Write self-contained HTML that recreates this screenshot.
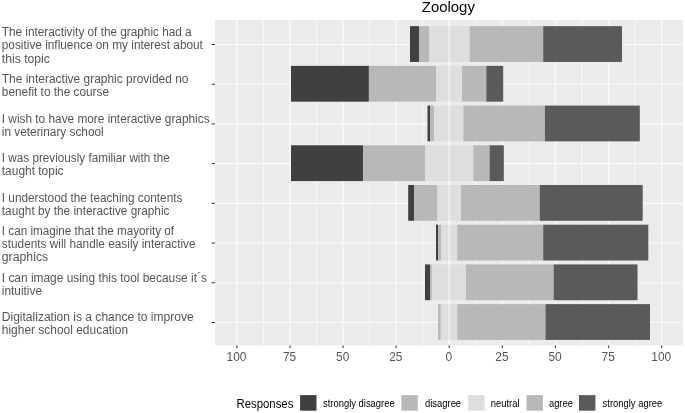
<!DOCTYPE html><html><head><meta charset="utf-8"><style>html,body{margin:0;padding:0;background:#fff;width:685px;height:413px;overflow:hidden}svg{display:block;will-change:transform;font-family:"Liberation Sans",sans-serif}</style></head><body>
<svg width="685" height="413" viewBox="0 0 685 413">
<rect x="0" y="0" width="685" height="413" fill="#fff"/>
<rect x="215" y="20" width="467.9" height="325.5" fill="#ebebeb"/>
<line x1="263.4" y1="20" x2="263.4" y2="345.5" stroke="#fff" stroke-width="0.9" opacity="0.75"/>
<line x1="316.5" y1="20" x2="316.5" y2="345.5" stroke="#fff" stroke-width="0.9" opacity="0.75"/>
<line x1="369.6" y1="20" x2="369.6" y2="345.5" stroke="#fff" stroke-width="0.9" opacity="0.75"/>
<line x1="422.7" y1="20" x2="422.7" y2="345.5" stroke="#fff" stroke-width="0.9" opacity="0.75"/>
<line x1="475.8" y1="20" x2="475.8" y2="345.5" stroke="#fff" stroke-width="0.9" opacity="0.75"/>
<line x1="528.9" y1="20" x2="528.9" y2="345.5" stroke="#fff" stroke-width="0.9" opacity="0.75"/>
<line x1="582" y1="20" x2="582" y2="345.5" stroke="#fff" stroke-width="0.9" opacity="0.75"/>
<line x1="635.1" y1="20" x2="635.1" y2="345.5" stroke="#fff" stroke-width="0.9" opacity="0.75"/>
<line x1="236.85" y1="20" x2="236.85" y2="345.5" stroke="#fff" stroke-width="1.3" opacity="0.72"/>
<line x1="289.95" y1="20" x2="289.95" y2="345.5" stroke="#fff" stroke-width="1.3" opacity="0.72"/>
<line x1="343.05" y1="20" x2="343.05" y2="345.5" stroke="#fff" stroke-width="1.3" opacity="0.72"/>
<line x1="396.15" y1="20" x2="396.15" y2="345.5" stroke="#fff" stroke-width="1.3" opacity="0.72"/>
<line x1="449.25" y1="20" x2="449.25" y2="345.5" stroke="#fff" stroke-width="1.3" opacity="0.72"/>
<line x1="502.35" y1="20" x2="502.35" y2="345.5" stroke="#fff" stroke-width="1.3" opacity="0.72"/>
<line x1="555.45" y1="20" x2="555.45" y2="345.5" stroke="#fff" stroke-width="1.3" opacity="0.72"/>
<line x1="608.55" y1="20" x2="608.55" y2="345.5" stroke="#fff" stroke-width="1.3" opacity="0.72"/>
<line x1="661.65" y1="20" x2="661.65" y2="345.5" stroke="#fff" stroke-width="1.3" opacity="0.72"/>
<line x1="215" y1="44.5" x2="682.9" y2="44.5" stroke="#fff" stroke-width="1.1" opacity="0.8"/>
<line x1="215" y1="84.21" x2="682.9" y2="84.21" stroke="#fff" stroke-width="1.1" opacity="0.8"/>
<line x1="215" y1="123.92" x2="682.9" y2="123.92" stroke="#fff" stroke-width="1.1" opacity="0.8"/>
<line x1="215" y1="163.63" x2="682.9" y2="163.63" stroke="#fff" stroke-width="1.1" opacity="0.8"/>
<line x1="215" y1="203.34" x2="682.9" y2="203.34" stroke="#fff" stroke-width="1.1" opacity="0.8"/>
<line x1="215" y1="243.05" x2="682.9" y2="243.05" stroke="#fff" stroke-width="1.1" opacity="0.8"/>
<line x1="215" y1="282.76" x2="682.9" y2="282.76" stroke="#fff" stroke-width="1.1" opacity="0.8"/>
<line x1="215" y1="322.47" x2="682.9" y2="322.47" stroke="#fff" stroke-width="1.1" opacity="0.8"/>
<rect x="410" y="26.15" width="9" height="35.8" fill="#404040"/>
<rect x="419" y="26.15" width="10" height="35.8" fill="#b8b8b8"/>
<rect x="429" y="26.15" width="40.6" height="35.8" fill="#dedede"/>
<rect x="469.6" y="26.15" width="73.6" height="35.8" fill="#b8b8b8"/>
<rect x="543.2" y="26.15" width="78.8" height="35.8" fill="#5a5a5a"/>
<rect x="291" y="65.86" width="77.9" height="35.8" fill="#404040"/>
<rect x="368.9" y="65.86" width="67.1" height="35.8" fill="#b8b8b8"/>
<rect x="436" y="65.86" width="26" height="35.8" fill="#dedede"/>
<rect x="462" y="65.86" width="24.3" height="35.8" fill="#b8b8b8"/>
<rect x="486.3" y="65.86" width="16.9" height="35.8" fill="#5a5a5a"/>
<rect x="427.5" y="105.57" width="2.5" height="35.8" fill="#404040"/>
<rect x="430" y="105.57" width="4.2" height="35.8" fill="#b8b8b8"/>
<rect x="434.2" y="105.57" width="29.2" height="35.8" fill="#dedede"/>
<rect x="463.4" y="105.57" width="81.5" height="35.8" fill="#b8b8b8"/>
<rect x="544.9" y="105.57" width="94.9" height="35.8" fill="#5a5a5a"/>
<rect x="291" y="145.28" width="72.1" height="35.8" fill="#404040"/>
<rect x="363.1" y="145.28" width="61.9" height="35.8" fill="#b8b8b8"/>
<rect x="425" y="145.28" width="48.3" height="35.8" fill="#dedede"/>
<rect x="473.3" y="145.28" width="16.3" height="35.8" fill="#b8b8b8"/>
<rect x="489.6" y="145.28" width="14.2" height="35.8" fill="#5a5a5a"/>
<rect x="408.2" y="184.99" width="5.8" height="35.8" fill="#404040"/>
<rect x="414" y="184.99" width="23.4" height="35.8" fill="#b8b8b8"/>
<rect x="437.4" y="184.99" width="23.6" height="35.8" fill="#dedede"/>
<rect x="461" y="184.99" width="78.7" height="35.8" fill="#b8b8b8"/>
<rect x="539.7" y="184.99" width="103" height="35.8" fill="#5a5a5a"/>
<rect x="436" y="224.7" width="2.2" height="35.8" fill="#404040"/>
<rect x="438.2" y="224.7" width="2.8" height="35.8" fill="#b8b8b8"/>
<rect x="441" y="224.7" width="16.2" height="35.8" fill="#dedede"/>
<rect x="457.2" y="224.7" width="86" height="35.8" fill="#b8b8b8"/>
<rect x="543.2" y="224.7" width="105.1" height="35.8" fill="#5a5a5a"/>
<rect x="425" y="264.41" width="5" height="35.8" fill="#404040"/>
<rect x="430" y="264.41" width="1.9" height="35.8" fill="#b8b8b8"/>
<rect x="431.9" y="264.41" width="34.1" height="35.8" fill="#dedede"/>
<rect x="466" y="264.41" width="87.7" height="35.8" fill="#b8b8b8"/>
<rect x="553.7" y="264.41" width="83.8" height="35.8" fill="#5a5a5a"/>
<rect x="438.1" y="304.12" width="2.7" height="35.8" fill="#b8b8b8"/>
<rect x="440.8" y="304.12" width="16.4" height="35.8" fill="#dedede"/>
<rect x="457.2" y="304.12" width="88.3" height="35.8" fill="#b8b8b8"/>
<rect x="545.5" y="304.12" width="104.5" height="35.8" fill="#5a5a5a"/>
<line x1="449.25" y1="20" x2="449.25" y2="345.5" stroke="#fff" stroke-width="1.2" opacity="0.7"/>
<line x1="211.6" y1="44.5" x2="215" y2="44.5" stroke="#333" stroke-width="1.0"/>
<line x1="211.6" y1="84.21" x2="215" y2="84.21" stroke="#333" stroke-width="1.0"/>
<line x1="211.6" y1="123.92" x2="215" y2="123.92" stroke="#333" stroke-width="1.0"/>
<line x1="211.6" y1="163.63" x2="215" y2="163.63" stroke="#333" stroke-width="1.0"/>
<line x1="211.6" y1="203.34" x2="215" y2="203.34" stroke="#333" stroke-width="1.0"/>
<line x1="211.6" y1="243.05" x2="215" y2="243.05" stroke="#333" stroke-width="1.0"/>
<line x1="211.6" y1="282.76" x2="215" y2="282.76" stroke="#333" stroke-width="1.0"/>
<line x1="211.6" y1="322.47" x2="215" y2="322.47" stroke="#333" stroke-width="1.0"/>
<line x1="236.85" y1="345.5" x2="236.85" y2="347.9" stroke="#4a4a4a" stroke-width="1.2"/>
<line x1="289.95" y1="345.5" x2="289.95" y2="347.9" stroke="#4a4a4a" stroke-width="1.2"/>
<line x1="343.05" y1="345.5" x2="343.05" y2="347.9" stroke="#4a4a4a" stroke-width="1.2"/>
<line x1="396.15" y1="345.5" x2="396.15" y2="347.9" stroke="#4a4a4a" stroke-width="1.2"/>
<line x1="449.25" y1="345.5" x2="449.25" y2="347.9" stroke="#4a4a4a" stroke-width="1.2"/>
<line x1="502.35" y1="345.5" x2="502.35" y2="347.9" stroke="#4a4a4a" stroke-width="1.2"/>
<line x1="555.45" y1="345.5" x2="555.45" y2="347.9" stroke="#4a4a4a" stroke-width="1.2"/>
<line x1="608.55" y1="345.5" x2="608.55" y2="347.9" stroke="#4a4a4a" stroke-width="1.2"/>
<line x1="661.65" y1="345.5" x2="661.65" y2="347.9" stroke="#4a4a4a" stroke-width="1.2"/>
<text x="1.8" y="35.8" font-size="12.5" fill="#555" textLength="189.86" lengthAdjust="spacingAndGlyphs">The interactivity of the graphic had a</text>
<text x="1.8" y="49.3" font-size="12.5" fill="#555" textLength="201.11" lengthAdjust="spacingAndGlyphs">positive influence on my interest about</text>
<text x="1.8" y="62.7" font-size="12.5" fill="#555" textLength="48.09" lengthAdjust="spacingAndGlyphs">this topic</text>
<text x="1.8" y="82.5" font-size="12.5" fill="#555" textLength="186.72" lengthAdjust="spacingAndGlyphs">The interactive graphic provided no</text>
<text x="1.8" y="95.8" font-size="12.5" fill="#555" textLength="107.27" lengthAdjust="spacingAndGlyphs">benefit to the course</text>
<text x="1.8" y="122.6" font-size="12.5" fill="#555" textLength="207.75" lengthAdjust="spacingAndGlyphs">I wish to have more interactive graphics</text>
<text x="1.8" y="135.7" font-size="12.5" fill="#555" textLength="101.93" lengthAdjust="spacingAndGlyphs">in veterinary school</text>
<text x="1.8" y="162.4" font-size="12.5" fill="#555" textLength="167.98" lengthAdjust="spacingAndGlyphs">I was previously familiar with the</text>
<text x="1.8" y="175.4" font-size="12.5" fill="#555" textLength="61.73" lengthAdjust="spacingAndGlyphs">taught topic</text>
<text x="1.8" y="201.8" font-size="12.5" fill="#555" textLength="180.57" lengthAdjust="spacingAndGlyphs">I understood the teaching contents</text>
<text x="1.8" y="214.8" font-size="12.5" fill="#555" textLength="167.67" lengthAdjust="spacingAndGlyphs">taught by the interactive graphic</text>
<text x="1.8" y="234.8" font-size="12.5" fill="#555" textLength="172.30" lengthAdjust="spacingAndGlyphs">I can imagine that the mayority of</text>
<text x="1.8" y="247.8" font-size="12.5" fill="#555" textLength="193.77" lengthAdjust="spacingAndGlyphs">students will handle easily interactive</text>
<text x="1.8" y="260.9" font-size="12.5" fill="#555" textLength="46.35" lengthAdjust="spacingAndGlyphs">graphics</text>
<text x="1.8" y="281.6" font-size="12.5" fill="#555" textLength="205.11" lengthAdjust="spacingAndGlyphs">I can image using this tool because it´s</text>
<text x="1.8" y="294.6" font-size="12.5" fill="#555" textLength="40.22" lengthAdjust="spacingAndGlyphs">intuitive</text>
<text x="1.8" y="320.7" font-size="12.5" fill="#555" textLength="191.84" lengthAdjust="spacingAndGlyphs">Digitalization is a chance to improve</text>
<text x="1.8" y="333.6" font-size="12.5" fill="#555" textLength="126.27" lengthAdjust="spacingAndGlyphs">higher school education</text>
<text transform="translate(236.45,361.4) scale(0.952,1)" font-size="12.5" fill="#555" text-anchor="middle">100</text>
<text transform="translate(289.55,361.4) scale(0.952,1)" font-size="12.5" fill="#555" text-anchor="middle">75</text>
<text transform="translate(342.65,361.4) scale(0.952,1)" font-size="12.5" fill="#555" text-anchor="middle">50</text>
<text transform="translate(395.75,361.4) scale(0.952,1)" font-size="12.5" fill="#555" text-anchor="middle">25</text>
<text transform="translate(448.85,361.4) scale(0.952,1)" font-size="12.5" fill="#555" text-anchor="middle">0</text>
<text transform="translate(501.95,361.4) scale(0.952,1)" font-size="12.5" fill="#555" text-anchor="middle">25</text>
<text transform="translate(555.05,361.4) scale(0.952,1)" font-size="12.5" fill="#555" text-anchor="middle">50</text>
<text transform="translate(608.15,361.4) scale(0.952,1)" font-size="12.5" fill="#555" text-anchor="middle">75</text>
<text transform="translate(661.25,361.4) scale(0.952,1)" font-size="12.5" fill="#555" text-anchor="middle">100</text>
<text transform="translate(448.3,12.3) scale(1.023,1)" font-size="14.6" fill="#000" text-anchor="middle">Zoology</text>
<text transform="translate(236.5,408.2) scale(0.955,1)" font-size="11.9" fill="#000">Responses</text>
<rect x="300.1" y="395.1" width="16.4" height="15.6" fill="#404040"/>
<text transform="translate(323,406.8) scale(0.872,1)" font-size="10.8" fill="#000">strongly disagree</text>
<rect x="401.4" y="395.1" width="16.4" height="15.6" fill="#b8b8b8"/>
<text transform="translate(425,406.8) scale(0.872,1)" font-size="10.8" fill="#000">disagree</text>
<rect x="468.2" y="395.1" width="16.4" height="15.6" fill="#dedede"/>
<text transform="translate(490.7,406.8) scale(0.872,1)" font-size="10.8" fill="#000">neutral</text>
<rect x="526.5" y="395.1" width="16.4" height="15.6" fill="#b8b8b8"/>
<text transform="translate(548.9,406.8) scale(0.872,1)" font-size="10.8" fill="#000">agree</text>
<rect x="579" y="395.1" width="16.4" height="15.6" fill="#5a5a5a"/>
<text transform="translate(602.6,406.8) scale(0.872,1)" font-size="10.8" fill="#000">strongly agree</text>
</svg></body></html>
